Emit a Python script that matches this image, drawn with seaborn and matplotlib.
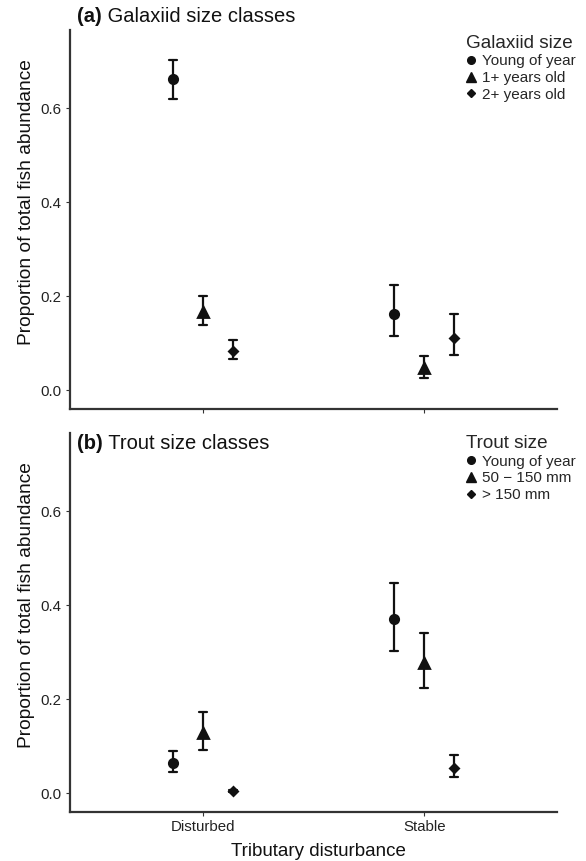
import numpy as np
import pandas as pd
import matplotlib
matplotlib.use("Agg")
import matplotlib.pyplot as plt
import seaborn as sns
from matplotlib.lines import Line2D

sns.set_theme(style="white")
plt.rcParams['font.family'] = ['Liberation Sans', 'DejaVu Sans']

disturbance = ["Disturbed", "Stable"]

gal_sizes = ["Young of year", "1+ years old", "2+ years old"]
gal_mean = {"Disturbed": [0.662, 0.166, 0.083], "Stable": [0.162, 0.047, 0.111]}
gal_low = {"Disturbed": [0.619, 0.138, 0.066], "Stable": [0.115, 0.026, 0.074]}
gal_high = {"Disturbed": [0.702, 0.200, 0.106], "Stable": [0.223, 0.072, 0.162]}

trout_sizes = ["Young of year", "50 \u2212 150 mm", "> 150 mm"]
trout_mean = {"Disturbed": [0.064, 0.128, 0.004], "Stable": [0.370, 0.277, 0.053]}
trout_low = {"Disturbed": [0.045, 0.091, 0.002], "Stable": [0.302, 0.223, 0.034]}
trout_high = {"Disturbed": [0.089, 0.172, 0.006], "Stable": [0.447, 0.340, 0.081]}

yticks = [0.0, 0.2, 0.4, 0.6]


def build(sizes, mean, low, high):
    rows = []
    for d in disturbance:
        for i, s in enumerate(sizes):
            for v in (low[d][i], mean[d][i], high[d][i]):
                rows.append({"Tributary disturbance": d, "size": s, "value": v})
    return pd.DataFrame(rows)


fig = plt.figure(figsize=(5.86, 8.61), dpi=100)
ax_a = fig.add_axes([70 / 586, 1 - 409 / 861, (557 - 70) / 586, (409 - 30) / 861])
ax_b = fig.add_axes([70 / 586, 1 - 812 / 861, (557 - 70) / 586, (812 - 433) / 861])

markers = ["o", "^", "D"]
msizes = [6, 7.5, 3.8]
dark = "#111111"
axcol = "#333333"

panels = [
    (ax_a, build(gal_sizes, gal_mean, gal_low, gal_high), gal_sizes, "Galaxiid size", 1.004),
    (ax_b, build(trout_sizes, trout_mean, trout_low, trout_high), trout_sizes, "Trout size", 1.011),
]

for ax, df, sizes, ltitle, ly in panels:
    sns.pointplot(data=df, x="Tributary disturbance", y="value", hue="size",
                  order=disturbance, hue_order=sizes,
                  estimator="median", errorbar=("pi", 100),
                  dodge=0.27, markers=markers, linestyles="none",
                  palette=[dark] * 3, capsize=0.035, err_kws={"linewidth": 1.6},
                  markersize=6, ax=ax, legend=False)
    for ln in ax.lines:
        m = ln.get_marker()
        if m in markers:
            ln.set_markersize(msizes[markers.index(m)])
    ax.set_xlim(-0.6, 1.6)
    ax.set_ylim(-0.04, 0.766)
    ax.set_yticks(yticks)
    ax.set_yticklabels([f"{v:.1f}" for v in yticks])
    ax.set_ylabel("Proportion of total fish abundance", fontsize=13.8, color="#111111")
    ax.yaxis.set_label_coords(-0.072, 0.545)
    for s in ["top", "right"]:
        ax.spines[s].set_visible(False)
    for s in ["left", "bottom"]:
        ax.spines[s].set_color(axcol)
        ax.spines[s].set_linewidth(1.6)
    ax.tick_params(axis="both", which="both", length=3, width=0.8, color=axcol,
                   labelsize=10.8, labelcolor="#222222", left=True, bottom=True, pad=3)
    ax.set_facecolor("white")

    handles = [Line2D([], [], linestyle="none", marker=m, color=dark,
                      markersize=ms) for m, ms in zip(["o", "^", "D"], [5.5, 7, 3.8])]
    leg = ax.legend(handles, sizes, title=ltitle, loc="upper right",
                    bbox_to_anchor=(1.052, ly), frameon=False,
                    fontsize=11, title_fontsize=13.6, handlelength=0.6,
                    handletextpad=0.45, labelspacing=0.18, borderaxespad=0.0)
    leg._legend_box.align = "left"

ax_a.set_xlabel("")
ax_a.set_xticklabels([])
ax_b.set_xlabel("Tributary disturbance", fontsize=13.5, color="#111111")
ax_b.xaxis.set_label_coords(0.511, -0.083)

fig.canvas.draw()
r = fig.canvas.get_renderer()
for ax, ypix, tag, ttl in [(ax_a, 22, "(a)", " Galaxiid size classes"), (ax_b, 449, "(b)", " Trout size classes")]:
    yf = 1 - ypix / 861
    t1 = fig.text(77 / 586, yf, tag, fontsize=14.5, fontweight="bold", color="#111111", va="baseline")
    bb = t1.get_window_extent(r)
    fig.text(bb.x1 / fig.bbox.width, yf, ttl, fontsize=14.5, color="#111111", va="baseline")

fig.savefig("out.png", dpi=100, facecolor="white")
